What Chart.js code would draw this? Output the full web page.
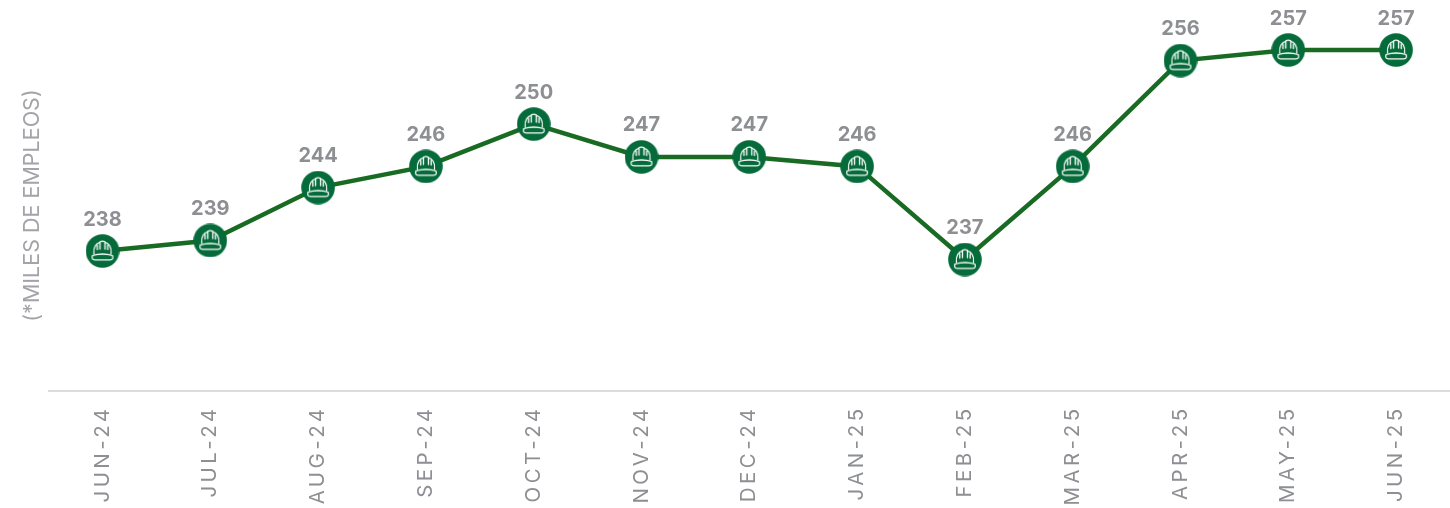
<!DOCTYPE html>
<html>
<head>
<meta charset="utf-8">
<title>Empleos</title>
<script src="https://cdn.jsdelivr.net/npm/chart.js@4/dist/chart.umd.min.js"></script>
<style>
  html, body { margin: 0; padding: 0; background: #fff; }
  #wrap { position: relative; width: 1450px; height: 508px; }
</style>
</head>
<body>
<div id="wrap"><canvas id="myChart" width="1450" height="508"></canvas></div>
<script>
var months = ['JUN-24', 'JUL-24', 'AUG-24', 'SEP-24', 'OCT-24', 'NOV-24', 'DEC-24', 'JAN-25', 'FEB-25', 'MAR-25', 'APR-25', 'MAY-25', 'JUN-25'];
var empleos = [238, 239, 244, 246, 250, 246.9, 246.9, 246, 237.2, 246, 256, 257, 257];
var yMin = 224.77;
var yMax = 259.84;
var fontName = 'Inter, "Liberation Sans", sans-serif';
var grey = '#8e8f93';

// helmet marker, drawn once and used as the pointStyle
function helmetIcon() {
  var c = document.createElement('canvas');
  c.width = 34;
  c.height = 34;
  var g = c.getContext('2d');
  g.fillStyle = '#056b3a';
  g.beginPath();
  g.arc(17, 17, 16.8, 0, Math.PI * 2);
  g.fill();
  g.strokeStyle = '#fff';
  g.lineWidth = 1.3;
  g.lineJoin = 'round';
  g.lineCap = 'round';
  // dome
  g.beginPath();
  g.moveTo(8.5, 20);
  g.bezierCurveTo(7.5, 13, 11, 9, 14.5, 8.3);
  g.moveTo(19.5, 8.3);
  g.bezierCurveTo(23, 9, 26.5, 13, 25.5, 20);
  g.stroke();
  // ridge
  g.beginPath();
  g.moveTo(14.5, 15);
  g.lineTo(14.5, 7.8);
  g.quadraticCurveTo(17, 6.6, 19.5, 7.8);
  g.lineTo(19.5, 15);
  g.moveTo(11.8, 11);
  g.lineTo(11.8, 15.5);
  g.moveTo(22.2, 11);
  g.lineTo(22.2, 15.5);
  g.stroke();
  // brim
  g.beginPath();
  g.moveTo(7, 21.5);
  g.quadraticCurveTo(17, 18.5, 27, 21.5);
  g.quadraticCurveTo(28.5, 25.8, 24.5, 25.8);
  g.lineTo(9.5, 25.8);
  g.quadraticCurveTo(5.5, 25.8, 7, 21.5);
  g.stroke();
  return c;
}

var valueLabels = {
  id: 'valueLabels',
  beforeDraw: function(chart) {
    chart.ctx.letterSpacing = '0px';
  },
  afterDatasetsDraw: function(chart) {
    // x tick labels draw after this (z: 1), the y title before it
    chart.ctx.letterSpacing = '3.4px';
  },
  afterDraw: function(chart) {
    var ctx = chart.ctx;
    ctx.save();
    ctx.letterSpacing = '0px';
    ctx.font = '700 20px ' + fontName;
    ctx.fillStyle = grey;
    ctx.textAlign = 'center';
    ctx.textBaseline = 'middle';
    chart.getDatasetMeta(0).data.forEach(function(pt, i) {
      ctx.fillText(Math.round(empleos[i]), pt.x, pt.y - 31.5);
    });
    ctx.restore();
  }
};

new Chart(document.getElementById('myChart').getContext('2d'), {
  type: 'line',
  plugins: [valueLabels],
  data: {
    labels: months,
    datasets: [{
      label: 'Empleos',
      data: empleos,
      borderColor: '#196b24',
      borderWidth: 4.5,
      tension: 0,
      pointStyle: helmetIcon(),
      pointRadius: 17,
      clip: false
    }]
  },
  options: {
    responsive: false,
    animation: false,
    layout: { autoPadding: false, padding: { top: 20, right: 0, left: 0, bottom: 0 } },
    plugins: { legend: { display: false }, tooltip: { enabled: false } },
    scales: {
      x: {
        offset: true,
        grid: { display: false },
        border: { color: '#dcdcdc', width: 2 },
        afterFit: function(scale) {
          scale.height = 117;
          scale.paddingLeft = 0;
          scale.paddingRight = 0;
        },
        ticks: {
          color: grey,
          font: { family: fontName, size: 20.5, weight: '400' },
          minRotation: 90,
          maxRotation: 90,
          padding: 6.5,
          autoSkip: false,
          z: 1
        }
      },
      y: {
        min: yMin,
        max: yMax,
        grid: { display: false },
        border: { display: false },
        afterFit: function(scale) { scale.width = 48.6; },
        ticks: { display: false },
        title: {
          display: true,
          text: '(*MILES DE EMPLEOS)',
          color: '#a3a4a8',
          font: { family: fontName, size: 21.5, weight: '400' },
          padding: { top: 20, bottom: 0 }
        }
      }
    }
  }
});
</script>
</body>
</html>
